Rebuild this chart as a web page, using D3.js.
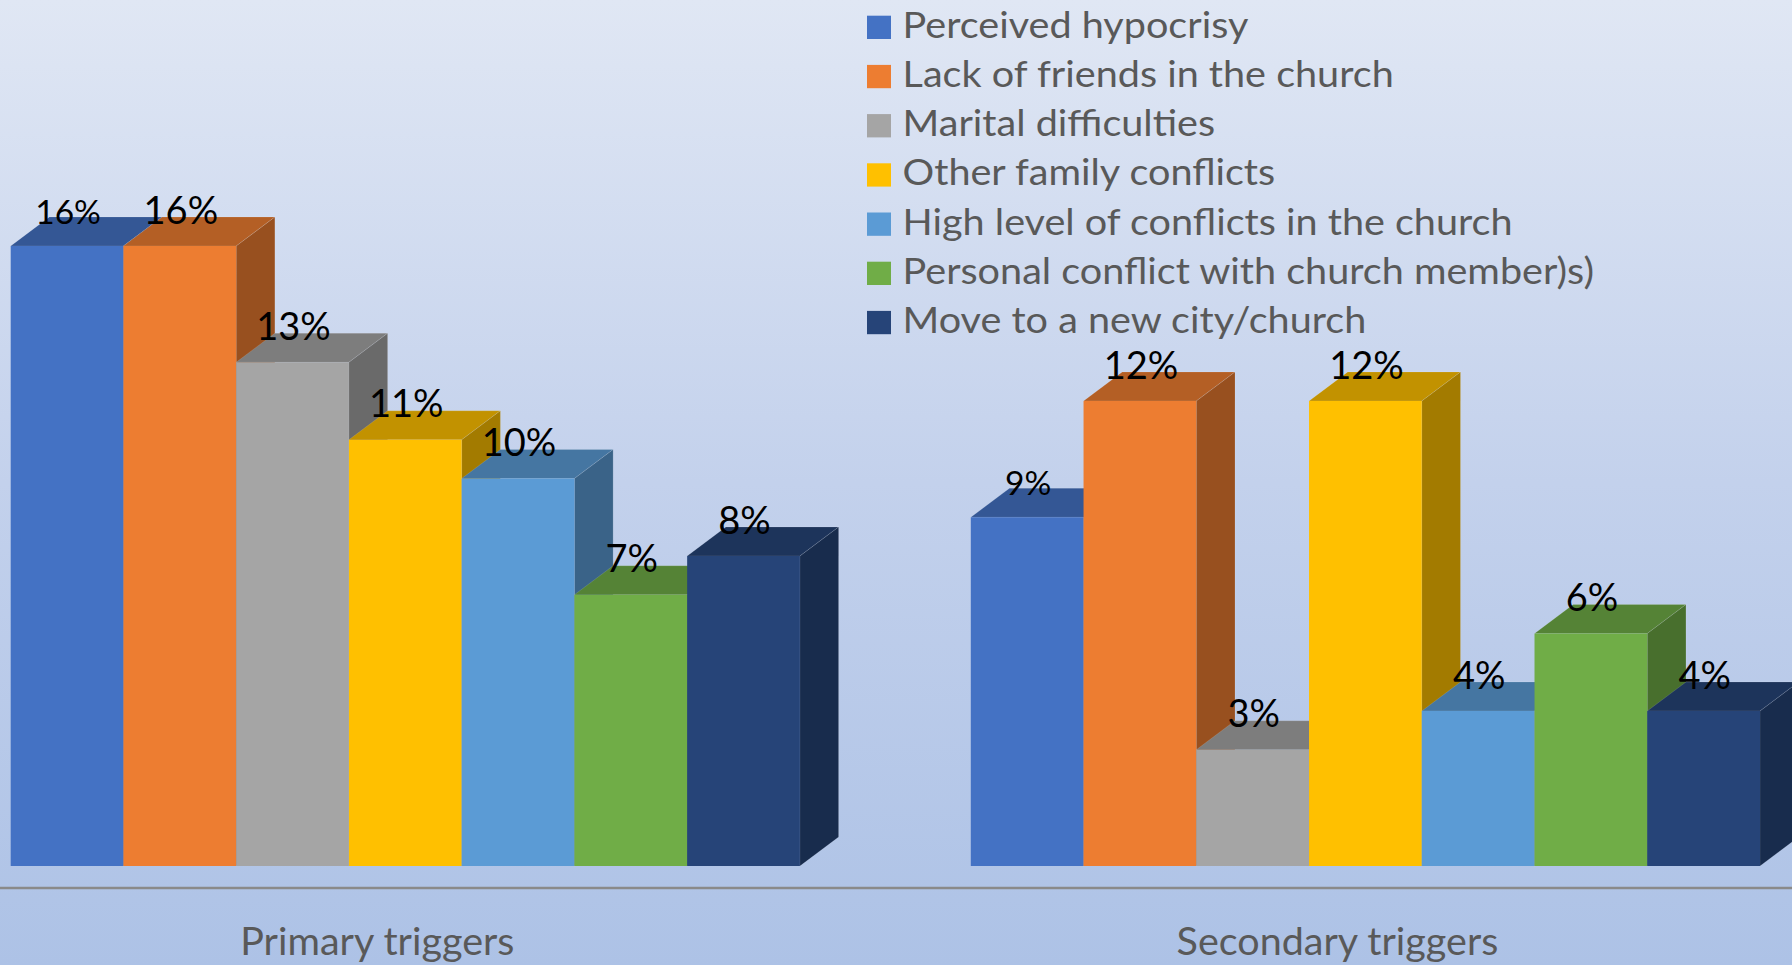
<!DOCTYPE html>
<html>
<head>
<meta charset="utf-8">
<script src="https://cdn.jsdelivr.net/npm/d3@7"></script>
<style>
  html, body { margin: 0; padding: 0; overflow: hidden; }
  svg { display: block; }
</style>
</head>
<body>
<script>
// ---- DATA ----
const categories = ["Primary triggers", "Secondary triggers"];
const seriesNames = [
  "Perceived hypocrisy",
  "Lack of friends in the church",
  "Marital difficulties",
  "Other family conflicts",
  "High level of conflicts in the church",
  "Personal conflict with church member)s)",
  "Move to a new city/church"
];
const primaryValues = [16, 16, 13, 11, 10, 7, 8];
const secondaryValues = [9, 12, 3, 12, 4, 6, 4];
const seriesColors = ["#4472C4", "#ED7D31", "#A5A5A5", "#FFC000", "#5B9BD5", "#70AD47", "#264478"];

// ---- LAYOUT ----
const W = 1792, H = 965;
const depthX = 38.7, depthY = 29;
const fontFam = "Lato, 'Open Sans', sans-serif";
const sxLegend = 1.07, sxCat = 1.0, sxNum = 1.0;

const valuesByCat = { "Primary triggers": primaryValues, "Secondary triggers": secondaryValues };

const svg = d3.select("body").append("svg").attr("width", W).attr("height", H);
const defs = svg.append("defs");
const grad = defs.append("linearGradient").attr("id", "bg").attr("x1", 0).attr("y1", 0).attr("x2", 0).attr("y2", 1);
grad.append("stop").attr("offset", "0%").attr("stop-color", "#e0e7f4");
grad.append("stop").attr("offset", "50%").attr("stop-color", "#c3d1ec");
grad.append("stop").attr("offset", "100%").attr("stop-color", "#adc2e6");
svg.append("rect").attr("width", W).attr("height", H).attr("fill", "url(#bg)");

const x0 = d3.scaleBand().domain(categories).range([10.7, 1760]).paddingInner(0.178).paddingOuter(0);
const x1 = d3.scaleBand().domain(seriesNames).range([0, x0.bandwidth()]).padding(0);
const y = d3.scaleLinear().domain([0, 20]).range([866, 91]);

function shade(c, k) {
  const r = d3.rgb(c);
  return d3.rgb(r.r * k, r.g * k, r.b * k).formatHex();
}

// axis line
svg.append("line").attr("x1", 0).attr("x2", W).attr("y1", 888).attr("y2", 888)
  .attr("stroke", "#8a8a8a").attr("stroke-width", 2.5);

const bars = svg.append("g");
categories.forEach(cat => {
  const vals = valuesByCat[cat];
  seriesNames.forEach((s, i) => {
    const v = vals[i];
    const xl = x0(cat) + x1(s);
    const xr = xl + x1.bandwidth();
    const yt = y(v), yb = y(0);
    const col = seriesColors[i];
    const g = bars.append("g");
    g.append("path")
      .attr("d", `M${xl},${yt} L${xl + depthX},${yt - depthY} L${xr + depthX},${yt - depthY} L${xr},${yt} Z`)
      .attr("fill", shade(col, 0.76)).attr("stroke", "rgba(255,255,255,0.12)").attr("stroke-width", 1);
    g.append("path")
      .attr("d", `M${xr},${yt} L${xr + depthX},${yt - depthY} L${xr + depthX},${yb - depthY} L${xr},${yb} Z`)
      .attr("fill", shade(col, 0.64)).attr("stroke", "rgba(255,255,255,0.12)").attr("stroke-width", 1);
    g.append("rect").attr("x", xl).attr("y", yt).attr("width", xr - xl).attr("height", yb - yt)
      .attr("fill", col);
  });
});

// value labels
const labels = svg.append("g");
categories.forEach(cat => {
  const vals = valuesByCat[cat];
  seriesNames.forEach((s, i) => {
    const cx = x0(cat) + x1(s) + x1.bandwidth() / 2 + 1;
    const yy = y(vals[i]) - 22.5;
    labels.append("text")
      .attr("transform", `translate(${cx},${yy}) scale(${sxNum},1)`)
      .attr("text-anchor", "middle")
      .attr("font-family", fontFam)
      .attr("font-size", i === 0 ? 33.5 : 38)
      .attr("fill", "#000")
      .text(vals[i] + "%");
  });
});

// category labels
categories.forEach(cat => {
  const cx = x0(cat) + x0.bandwidth() / 2 - 28;
  svg.append("text")
    .attr("transform", `translate(${cx},955) scale(${sxCat},1)`)
    .attr("text-anchor", "middle")
    .attr("font-family", fontFam)
    .attr("font-size", 39.5)
    .attr("fill", "#595959")
    .text(cat);
});

// legend
const legend = svg.append("g");
seriesNames.forEach((s, i) => {
  legend.append("rect").attr("x", 867).attr("y", 15.7 + i * 49.2).attr("width", 24).attr("height", 23.3)
    .attr("fill", seriesColors[i]);
  legend.append("text")
    .attr("transform", `translate(902.6,${37.7 + i * 49.2}) scale(${sxLegend},1)`)
    .attr("font-family", fontFam)
    .attr("font-size", 37)
    .attr("fill", "#595959")
    .text(s);
});
</script>
</body>
</html>
